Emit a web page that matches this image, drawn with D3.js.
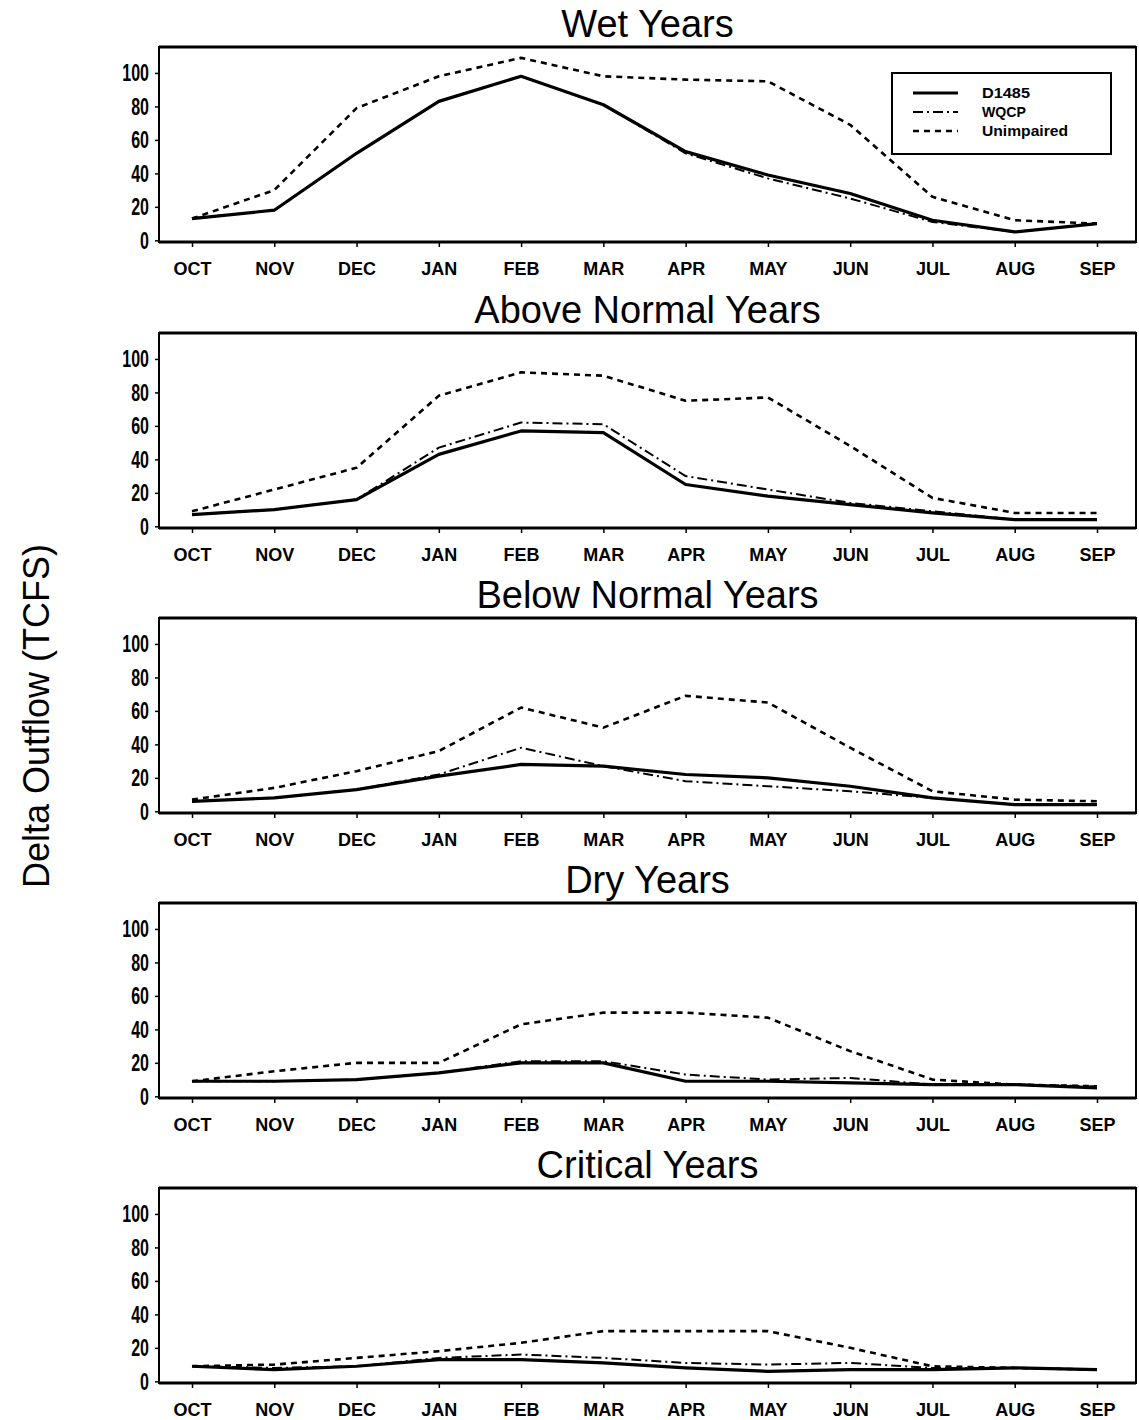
<!DOCTYPE html>
<html>
<head>
<meta charset="utf-8">
<script src="https://cdnjs.cloudflare.com/ajax/libs/d3/7.8.5/d3.min.js"></script>
<style>
  html, body { margin: 0; padding: 0; background: #fff; }
  svg { display: block; }
</style>
</head>
<body>
<svg id="chart" width="1139" height="1420"></svg>
<script>
// Monthly Delta outflow (thousand cfs) by water-year type
const months = ["OCT","NOV","DEC","JAN","FEB","MAR","APR","MAY","JUN","JUL","AUG","SEP"];
const yTicks = [0, 20, 40, 60, 80, 100];
const seriesNames = ["D1485", "WQCP", "Unimpaired"];
const panelTitles = ["Wet Years", "Above Normal Years", "Below Normal Years", "Dry Years", "Critical Years"];

const wetD1485       = [13, 18, 52, 83, 98, 81, 53, 39, 28, 12, 5, 10];
const wetWQCP        = [13, 18, 52, 83, 98, 81, 52, 37, 25, 11, 5, 10];
const wetUnimpaired  = [13, 30, 79, 98, 109, 98, 96, 95, 69, 26, 12, 10];

const anD1485        = [7, 10, 16, 43, 57, 56, 25, 18, 13, 8, 4, 4];
const anWQCP         = [7, 10, 16, 47, 62, 61, 30, 22, 14, 9, 4, 4];
const anUnimpaired   = [9, 22, 35, 78, 92, 90, 75, 77, 48, 17, 8, 8];

const bnD1485        = [6, 8, 13, 21, 28, 27, 22, 20, 15, 8, 4, 4];
const bnWQCP         = [6, 8, 13, 22, 38, 27, 18, 15, 12, 8, 4, 4];
const bnUnimpaired   = [7, 14, 24, 36, 62, 50, 69, 65, 38, 12, 7, 6];

const dryD1485       = [9, 9, 10, 14, 20, 20, 9, 9, 8, 7, 7, 5];
const dryWQCP        = [9, 9, 10, 14, 21, 21, 13, 10, 11, 7, 7, 6];
const dryUnimpaired  = [9, 15, 20, 20, 43, 50, 50, 47, 27, 10, 7, 6];

const critD1485      = [9, 7, 9, 13, 13, 11, 8, 6, 7, 7, 8, 7];
const critWQCP       = [9, 8, 9, 14, 16, 14, 11, 10, 11, 8, 8, 7];
const critUnimpaired = [9, 10, 14, 18, 23, 30, 30, 30, 20, 9, 8, 7];

const panels = [
  [wetD1485, wetWQCP, wetUnimpaired],
  [anD1485, anWQCP, anUnimpaired],
  [bnD1485, bnWQCP, bnUnimpaired],
  [dryD1485, dryWQCP, dryUnimpaired],
  [critD1485, critWQCP, critUnimpaired]
];

// Layout
const plotLeft = 159, plotRight = 1136;
const plotW = plotRight - plotLeft;
const plotH = 195;
const panelTops = [47, 333, 618, 903, 1188];

const lineStyles = {
  D1485:      { width: 3.2, dash: null },
  WQCP:       { width: 2,   dash: "10,4,2,4" },
  Unimpaired: { width: 2.6, dash: "6,5" }
};
const drawOrder = ["Unimpaired", "D1485", "WQCP"];
const legendWidths = { D1485: 48, WQCP: 44, Unimpaired: 86 };

const svg = d3.select("#chart");
const sansFont = "'Liberation Sans', Arial, sans-serif";

const x = d3.scalePoint().domain(months).range([33, 938]);
const y = d3.scaleLinear().domain([-1, 115.5]).range([plotH, 0]);

panels.forEach((data, i) => {
  const g = svg.append("g").attr("transform", `translate(${plotLeft},${panelTops[i]})`);

  // title
  svg.append("text")
    .attr("x", plotLeft + plotW / 2)
    .attr("y", panelTops[i] - 10)
    .attr("text-anchor", "middle")
    .attr("font-family", sansFont)
    .attr("font-size", 38)
    .attr("fill", "#000")
    .text(panelTitles[i]);

  // y axis
  const yAxis = g.append("g")
    .call(d3.axisLeft(y).tickValues(yTicks).tickSize(4).tickPadding(6).tickFormat(d3.format("d")));
  yAxis.select(".domain").remove();
  yAxis.selectAll("line").attr("stroke", "#000").attr("stroke-width", 1.5);
  yAxis.selectAll("text")
    .attr("font-family", sansFont).attr("font-weight", "bold")
    .attr("font-size", 24).attr("fill", "#000")
    .attr("textLength", d => String(d).length * 8.9)
    .attr("lengthAdjust", "spacingAndGlyphs");

  // x axis
  const xAxis = g.append("g")
    .attr("transform", `translate(0,${plotH})`)
    .call(d3.axisBottom(x).tickSize(5).tickPadding(15));
  xAxis.select(".domain").remove();
  xAxis.selectAll("line").attr("stroke", "#000").attr("stroke-width", 1.5);
  xAxis.selectAll("text")
    .attr("font-family", sansFont).attr("font-weight", "bold")
    .attr("font-size", 18).attr("fill", "#000");

  // frame
  g.append("rect")
    .attr("x", 0).attr("y", 0).attr("width", plotW).attr("height", plotH)
    .attr("fill", "none").attr("stroke", "#000").attr("stroke-width", 2);
  g.append("line").attr("x1", 0).attr("x2", plotW).attr("y1", 0).attr("y2", 0)
    .attr("stroke", "#000").attr("stroke-width", 3);
  g.append("line").attr("x1", 0).attr("x2", plotW).attr("y1", plotH).attr("y2", plotH)
    .attr("stroke", "#000").attr("stroke-width", 3);

  // series lines
  const line = d3.line()
    .x((d, k) => x(months[k]))
    .y(d => y(d));
  drawOrder.forEach(name => {
    const idx = seriesNames.indexOf(name);
    const st = lineStyles[name];
    g.append("path")
      .datum(data[idx])
      .attr("d", line)
      .attr("fill", "none")
      .attr("stroke", "#000")
      .attr("stroke-width", st.width)
      .attr("stroke-linejoin", "round")
      .attr("stroke-dasharray", st.dash);
  });

  // legend in first panel
  if (i === 0) {
    const lg = g.append("g").attr("transform", `translate(${892 - plotLeft},${73 - panelTops[0]})`);
    lg.append("rect").attr("width", 219).attr("height", 81)
      .attr("fill", "#fff").attr("stroke", "#000").attr("stroke-width", 2);
    seriesNames.forEach((name, k) => {
      const st = lineStyles[name];
      const ly = 20 + k * 19;
      lg.append("line")
        .attr("x1", 21).attr("x2", 66).attr("y1", ly).attr("y2", ly)
        .attr("stroke", "#000").attr("stroke-width", st.width)
        .attr("stroke-dasharray", st.dash);
      lg.append("text")
        .attr("x", 90).attr("y", ly + 5)
        .attr("font-family", sansFont).attr("font-weight", "bold")
        .attr("font-size", 14).attr("fill", "#000")
        .attr("textLength", legendWidths[name])
        .attr("lengthAdjust", "spacingAndGlyphs")
        .text(name);
    });
  }
});

// y-axis title
svg.append("text")
  .attr("transform", "translate(49,716) rotate(-90)")
  .attr("text-anchor", "middle")
  .attr("font-family", sansFont)
  .attr("font-size", 36)
  .attr("fill", "#000")
  .text("Delta Outflow (TCFS)");
</script>
</body>
</html>
